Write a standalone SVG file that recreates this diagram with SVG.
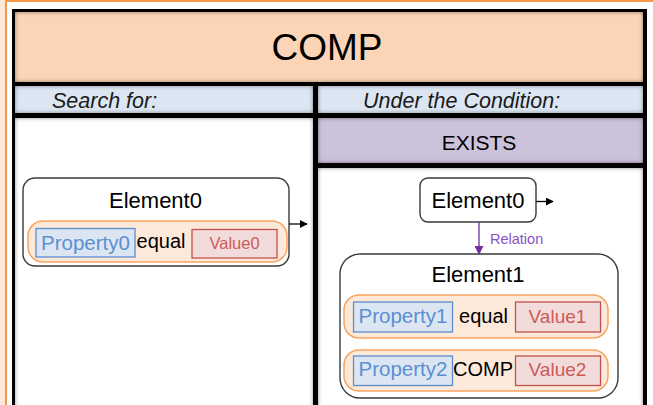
<svg xmlns="http://www.w3.org/2000/svg" width="653" height="405" viewBox="0 0 653 405">
  <style>
    text { font-family: "Liberation Sans", Arial, sans-serif; fill: #000; }
    .mid { text-anchor: middle; }
    .hdr { font-style: italic; font-size: 21.5px; fill: #1a1a1a; }
    .elem { fill: #fff; stroke: #3a3a3a; stroke-width: 1.4; }
    .pill { fill: #FDE9D9; stroke: #F7A463; stroke-width: 1.5; }
    .prop { fill: #DCE6F2; stroke: #5B8CCB; stroke-width: 1.3; }
    .val { fill: #F2DCDB; stroke: #C0504D; stroke-width: 1.3; }
    .ptxt { fill: #5B8FD3; font-size: 20.5px; }
    .vtxt { fill: #CF5A57; font-size: 19px; }
    .vsmall { font-size: 16.5px; }
    .otxt { font-size: 20px; }
    .etxt { font-size: 22px; }
    .rel { fill: #8A52C6; font-size: 14.5px; }
  </style>
  <defs>
    <filter id="inset" x="-10%" y="-10%" width="120%" height="120%">
      <feFlood flood-color="#000" result="k"/>
      <feComposite in="k" in2="SourceAlpha" operator="out" result="outside"/>
      <feGaussianBlur in="outside" stdDeviation="2.2" result="blur"/>
      <feComposite in="blur" in2="SourceAlpha" operator="in" result="shadow"/>
      <feComponentTransfer in="shadow" result="soft">
        <feFuncA type="linear" slope="0.9"/>
      </feComponentTransfer>
      <feMerge>
        <feMergeNode in="SourceGraphic"/>
        <feMergeNode in="soft"/>
      </feMerge>
    </filter>
    <marker id="ahBlack" viewBox="0 0 10 10" refX="9" refY="5" markerWidth="8" markerHeight="8" markerUnits="userSpaceOnUse" orient="auto">
      <path d="M0,0 L10,5 L0,10 Z" fill="#000"/>
    </marker>
    <marker id="ahPurple" viewBox="0 0 10 10" refX="9" refY="5" markerWidth="9" markerHeight="9" markerUnits="userSpaceOnUse" orient="auto">
      <path d="M0,0 L10,5 L0,10 Z" fill="#7030A0"/>
    </marker>
  </defs>

  <!-- page frame -->
  <rect x="0" y="0" width="653" height="405" fill="#fff"/>
  <rect x="0" y="0" width="5" height="405" fill="#FDE9D9"/>
  <rect x="6" y="1" width="660" height="420" fill="none" stroke="#F79646" stroke-width="2"/>

  <!-- table grid -->
  <g id="table">
    <rect x="12" y="9" width="635" height="410" fill="#000"/>
    <rect x="15" y="12" width="628" height="70" fill="#FBD5B5" filter="url(#inset)"/>
    <rect x="15" y="86" width="298" height="27" fill="#DCE6F2" filter="url(#inset)"/>
    <rect x="318" y="86" width="325" height="27" fill="#DCE6F2" filter="url(#inset)"/>
    <rect x="15" y="118" width="298" height="300" fill="#fff" filter="url(#inset)"/>
    <rect x="318" y="118" width="325" height="45" fill="#CCC1DA" filter="url(#inset)"/>
    <rect x="318" y="168" width="325" height="250" fill="#fff" filter="url(#inset)"/>
    <text class="mid" x="327" y="60" font-size="37">COMP</text>
    <text class="hdr" x="52" y="108">Search for:</text>
    <text class="hdr" x="363" y="108">Under the Condition:</text>
    <text class="mid" x="479" y="150" font-size="21">EXISTS</text>
  </g>

  <!-- left side: searched element -->
  <g id="search-element0">
    <rect class="elem" x="23" y="178" width="266" height="88" rx="12"/>
    <text class="mid etxt" x="155.5" y="208">Element0</text>
    <rect class="pill" x="28" y="221" width="259" height="41" rx="15"/>
    <rect class="prop" x="36" y="228.5" width="99" height="28.5"/>
    <text class="mid ptxt" x="85.5" y="250">Property0</text>
    <text class="mid otxt" x="161" y="248">equal</text>
    <rect class="val" x="192" y="229.5" width="85" height="28.5"/>
    <text class="mid vtxt vsmall" x="234.5" y="249">Value0</text>
  </g>

  <!-- right side: condition elements -->
  <g id="cond-element0">
    <rect class="elem" x="420" y="178" width="116" height="44" rx="8"/>
    <text class="mid etxt" x="478" y="208">Element0</text>
  </g>

  <g id="cond-element1">
    <rect class="elem" x="340" y="254" width="278" height="144" rx="20"/>
    <text class="mid etxt" x="478" y="282">Element1</text>
    <rect class="pill" x="344" y="295" width="264" height="43" rx="15"/>
    <rect class="prop" x="353.5" y="302" width="99" height="30"/>
    <text class="mid ptxt" x="403" y="323">Property1</text>
    <text class="mid otxt" x="483.5" y="323">equal</text>
    <rect class="val" x="515.5" y="302" width="85" height="30"/>
    <text class="mid vtxt" x="557.5" y="323">Value1</text>
    <rect class="pill" x="344" y="350" width="264" height="41" rx="15"/>
    <rect class="prop" x="353.5" y="356" width="99" height="29.5"/>
    <text class="mid ptxt" x="403" y="376">Property2</text>
    <text class="mid otxt" x="483" y="376">COMP</text>
    <rect class="val" x="515.5" y="356" width="85" height="29.5"/>
    <text class="mid vtxt" x="557.5" y="376">Value2</text>
  </g>

  <!-- connectors -->
  <g id="connectors">
    <line x1="289" y1="224" x2="307" y2="224" stroke="#000" stroke-width="1.3" marker-end="url(#ahBlack)"/>
    <line x1="536" y1="201.5" x2="553" y2="201.5" stroke="#000" stroke-width="1.3" marker-end="url(#ahBlack)"/>
    <line x1="479" y1="222" x2="479" y2="254" stroke="#7030A0" stroke-width="1.3" marker-end="url(#ahPurple)"/>
    <text class="rel" x="490" y="244">Relation</text>
  </g>
</svg>
